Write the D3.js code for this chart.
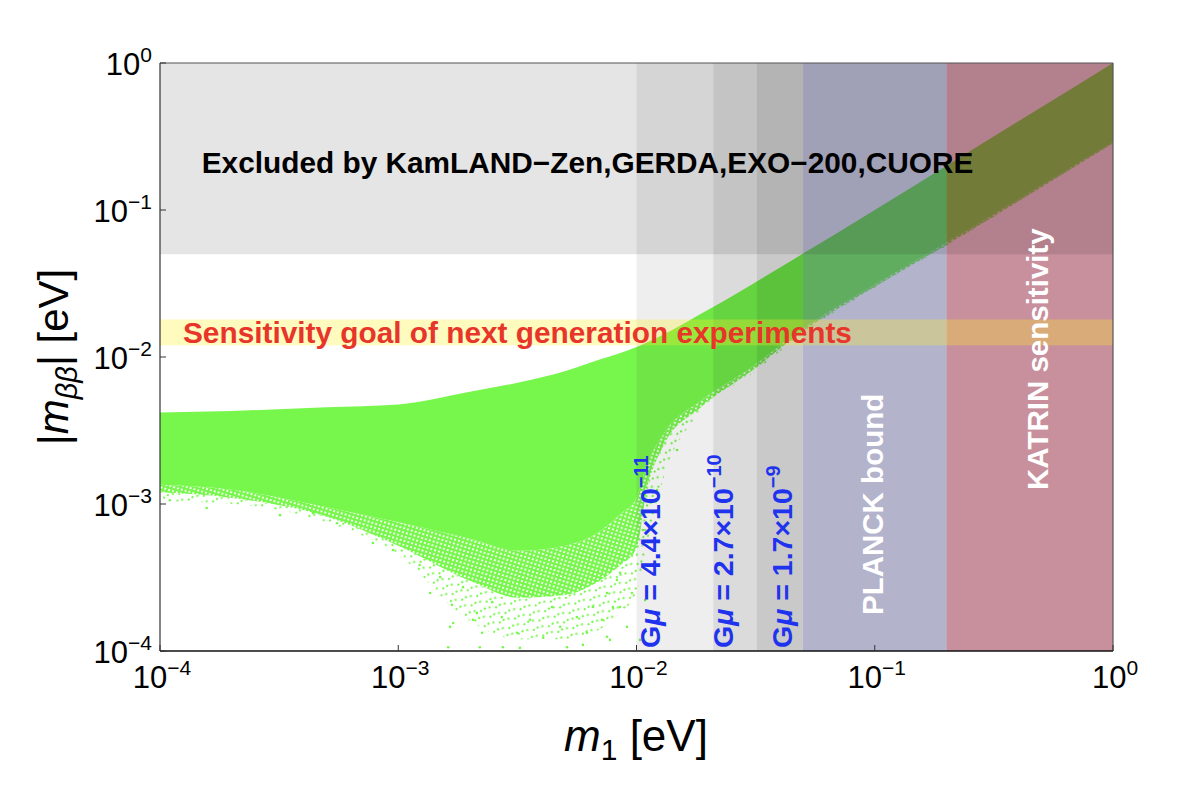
<!DOCTYPE html>
<html>
<head>
<meta charset="utf-8">
<script src="https://cdn.jsdelivr.net/npm/d3@7"></script>
<style>
  body { margin: 0; background: #fff; }
  text { font-family: "Liberation Sans", Arial, Helvetica, sans-serif; }
</style>
</head>
<body>
<svg id="chart" width="1192" height="798"></svg>
<script>
// ---- data ----
// edges of the allowed |m_bb| region, sampled at m1 (eV)
const m1Grid      = [1e-4, 2e-4, 5e-4, 1e-3, 2e-3, 3.2e-3, 5e-3, 7e-3, 8.5e-3, 1e-2, 1.1e-2, 1.3e-2, 1.85e-2, 3e-2, 5e-2, 0.1, 0.2, 0.5, 1];
const upperEdge   = [4.2e-3, 4.3e-3, 4.55e-3, 4.75e-3, 5.8e-3, 6.7e-3, 8.0e-3, 9.6e-3, 1.06e-2, 1.17e-2, 1.25e-2, 1.42e-2, 1.95e-2, 3.07e-2, 5.05e-2, 0.1, 0.2, 0.5, 1];
const lowerDense  = [1.35e-3, 1.25e-3, 9.5e-4, 7.5e-4, 5.8e-4, 4.8e-4, 5.2e-4, 6.5e-4, 8.5e-4, 1.1e-3, 1.8e-3, 3.0e-3, 5.0e-3, 8.4e-3, 1.56e-2, 3.1e-2, 6.0e-2, 0.147, 0.29];
const lowerFringe = [1.2e-3, 1.1e-3, 8.2e-4, 5.2e-4, 3.0e-4, 2.3e-4, 2.4e-4, 3.0e-4, 3.8e-4, 5.0e-4, 1.2e-3, 2.5e-3, 4.5e-3, 7.9e-3, 1.5e-2, 3.0e-2, 5.8e-2, 0.143, 0.285];
const lowerOuter  = [1.05e-3, 1.0e-3, 7.5e-4, 4.5e-4, 1.6e-4, 1.2e-4, 1.2e-4, 1.4e-4, 1.8e-4, 2.5e-4, 5e-4, 1.5e-3, 4.2e-3, 7.5e-3, 1.45e-2, 2.95e-2, 5.7e-2, 0.142, 0.283];
// isolated scatter points below the dense region [m1, |m_bb|]
const sparsePoints = [
  [1.36e-3, 2.48e-4], [1.68e-3, 2.06e-4], [1.70e-3, 1.55e-4], [2.06e-3, 1.63e-4], [2.25e-3, 1.33e-4],
  [2.48e-3, 2.15e-4], [2.72e-3, 1.70e-4], [3.15e-3, 1.33e-4], [3.24e-3, 1.05e-4], [3.57e-3, 1.63e-4],
  [4.06e-3, 1.23e-4], [4.42e-3, 1.99e-4], [4.78e-3, 1.46e-4], [5.11e-3, 1.06e-4], [5.62e-3, 1.70e-4],
  [6.19e-3, 1.33e-4], [6.56e-3, 1.99e-4], [7.16e-3, 1.63e-4], [7.52e-3, 1.25e-4], [5.96e-3, 1.10e-4],
  [2.75e-3, 1.06e-4], [2.20e-3, 1.06e-4], [8.53e-3, 1.99e-4], [9.12e-3, 1.46e-4], [1.50e-3, 3.19e-4],
  [1.87e-3, 2.72e-4], [4.63e-3, 2.48e-4], [3.68e-3, 2.48e-4], [2.94e-3, 2.72e-4], [2.36e-3, 3.19e-4],
  [7.52e-3, 2.48e-4], [8.28e-3, 3.04e-4], [1.65e-3, 1.46e-4], [1.62e-3, 1.06e-4], [1.23e-3, 3.85e-4],
  [2.14e-3, 1.81e-4], [7.83e-4, 5.43e-4], [9.5e-4, 4.86e-4], [3.19e-4, 8.4e-4], [1.57e-4, 9.4e-4],
  [1.10e-4, 1.06e-3], [4.39e-4, 8.7e-4], [5.53e-4, 7.4e-4], [7.96e-3, 1.99e-4], [7.74e-3, 1.19e-4],
  [9.57e-3, 2.48e-4], [8.53e-3, 3.40e-4], [1.064e-2, 6.65e-4], [1.22e-2, 1.245e-3], [1.48e-2, 2.33e-3],
  [1.17e-2, 8.7e-4], [1.035e-2, 1.19e-4], [1.087e-2, 2.22e-4]
];

// shaded bounds (eV)
const excludedBand    = [0.05, 1];
const sensitivityBand = [0.012, 0.018];
const gmuEdges        = [0.01, 0.021, 0.032, 0.05];
const gmuMantissa     = ["4.4", "2.7", "1.7"];
const gmuExponent     = ["−11", "−10", "−9"];
const planckBand      = [0.05, 0.2];
const katrinBand      = [0.2, 1];

// axis ticks
const tickValues = [1e-4, 1e-3, 1e-2, 1e-1, 1];
const tickExp    = ["−4", "−3", "−2", "−1", "0"];

// ---- layout ----
const padL = 160, padR = 1113, padT = 63, padB = 651;
const green = "#77f64c";

const svg = d3.select("#chart");

const x = d3.scaleLog().domain([1e-4, 1]).range([padL, padR]);
const y = d3.scaleLog().domain([1e-4, 1]).range([padB, padT]);

const defs = svg.append("defs");
defs.append("clipPath").attr("id", "plotClip")
  .append("rect")
  .attr("x", padL).attr("y", padT)
  .attr("width", padR - padL).attr("height", padB - padT);

// stipples for the thinning edge of the scatter
function stipple(id, size, dots, angle, r) {
  const p = defs.append("pattern")
    .attr("id", id)
    .attr("patternUnits", "userSpaceOnUse")
    .attr("patternTransform", `rotate(${angle})`)
    .attr("width", size).attr("height", size);
  dots.forEach(d => p.append("circle").attr("cx", d[0]).attr("cy", d[1]).attr("r", r).attr("fill", green));
}
stipple("stippleDense", 4, [[1, 1], [3, 3], [3, 1]], 17, 1.3);
stipple("stippleSparse", 11, [[1, 1], [6.5, 4.5], [3, 8]], 31, 1.15);

const plot = svg.append("g").attr("clip-path", "url(#plotClip)");

// ---- scatter region ----
const rows = m1Grid.map((m, i) => ({
  m: m, up: upperEdge[i], lo: lowerDense[i], fr: lowerFringe[i], out: lowerOuter[i]
}));

function band(lowKey, highKey, fill) {
  plot.append("path")
    .datum(rows)
    .attr("fill", fill)
    .attr("d", d3.area()
      .x(d => x(d.m))
      .y0(d => y(d[lowKey]))
      .y1(d => y(d[highKey]))
      .curve(d3.curveMonotoneX));
}
band("out", "fr", "url(#stippleSparse)");
band("fr", "lo", "url(#stippleDense)");
band("lo", "up", green);

plot.selectAll("circle.pt")
  .data(sparsePoints)
  .enter().append("circle")
  .attr("class", "pt")
  .attr("cx", d => x(d[0]))
  .attr("cy", d => y(d[1]))
  .attr("r", 1.3)
  .attr("fill", green);

// ---- shaded bands ----
function vBand(lo, hi, fill) {
  plot.append("rect")
    .attr("x", x(lo)).attr("y", padT)
    .attr("width", x(hi) - x(lo)).attr("height", padB - padT)
    .attr("fill", fill);
}
function hBand(lo, hi, fill) {
  plot.append("rect")
    .attr("x", padL).attr("y", y(hi))
    .attr("width", padR - padL).attr("height", y(lo) - y(hi))
    .attr("fill", fill);
}

const gmuShade = [0.065, 0.14, 0.21];
gmuEdges.slice(0, -1).forEach((e, i) => vBand(e, gmuEdges[i + 1], `rgba(0,0,0,${gmuShade[i]})`));
vBand(planckBand[0], planckBand[1], "rgba(65,65,127,0.4)");
vBand(katrinBand[0], katrinBand[1], "rgba(140,20,50,0.48)");
hBand(excludedBand[0], excludedBand[1], "rgba(0,0,0,0.1)");
hBand(sensitivityBand[0], sensitivityBand[1], "rgba(255,240,40,0.3)");

// ---- frame and ticks ----
svg.append("line").attr("x1", padL).attr("x2", padR).attr("y1", padT).attr("y2", padT)
  .attr("stroke", "#555").attr("stroke-width", 1.2);
svg.append("line").attr("x1", padR).attr("x2", padR).attr("y1", padT).attr("y2", padB)
  .attr("stroke", "#555").attr("stroke-width", 1.2);
svg.append("line").attr("x1", padL).attr("x2", padL).attr("y1", padT).attr("y2", padB)
  .attr("stroke", "#333").attr("stroke-width", 1.2);
svg.append("line").attr("x1", padL).attr("x2", padR).attr("y1", padB).attr("y2", padB)
  .attr("stroke", "#111").attr("stroke-width", 1.4);

svg.selectAll("line.xt").data(tickValues).enter().append("line")
  .attr("x1", d => x(d)).attr("x2", d => x(d))
  .attr("y1", padB).attr("y2", padB - 6)
  .attr("stroke", "#333");
svg.selectAll("line.yt").data(tickValues).enter().append("line")
  .attr("x1", padL).attr("x2", padL + 6)
  .attr("y1", d => y(d)).attr("y2", d => y(d))
  .attr("stroke", "#333");

// tick labels 10^n
function powerLabel(sel, exp) {
  sel.append("tspan").text("10");
  sel.append("tspan").attr("dy", -13).attr("font-size", 21).text(exp);
}
tickValues.forEach((v, i) => {
  const tx = svg.append("text")
    .attr("x", x(v) + 2).attr("y", 688)
    .attr("text-anchor", "middle")
    .attr("font-size", 31)
    .attr("fill", "#000");
  powerLabel(tx, tickExp[i]);

  const ty = svg.append("text")
    .attr("x", 152).attr("y", y(v) + 12)
    .attr("text-anchor", "end")
    .attr("font-size", 31)
    .attr("fill", "#000");
  powerLabel(ty, tickExp[i]);
});

// axis titles
const xt = svg.append("text")
  .attr("x", 636).attr("y", 751)
  .attr("text-anchor", "middle")
  .attr("font-size", 44);
xt.append("tspan").attr("font-style", "italic").text("m");
xt.append("tspan").attr("font-size", 30).attr("dy", 9).text("1");
xt.append("tspan").attr("dy", -9).text(" [eV]");

const yt = svg.append("text")
  .attr("transform", "translate(68,357) rotate(-90)")
  .attr("text-anchor", "middle")
  .attr("font-size", 42);
yt.append("tspan").text("|");
yt.append("tspan").attr("font-style", "italic").text("m");
yt.append("tspan").attr("font-style", "italic").attr("font-size", 29).attr("dy", 9).text("ββ");
yt.append("tspan").attr("dy", -9).text("| [eV]");

// ---- annotations ----
svg.append("text")
  .attr("x", (203 + 972) / 2).attr("y", 173)
  .attr("text-anchor", "middle")
  .attr("font-size", 29.8).attr("font-weight", "bold")
  .attr("fill", "#000")
  .text("Excluded by KamLAND−Zen,GERDA,EXO−200,CUORE");

svg.append("text")
  .attr("x", 183).attr("y", 343)
  .attr("font-size", 29.8).attr("font-weight", "bold")
  .attr("fill", "#e8352a")
  .text("Sensitivity goal of next generation experiments");

// G mu labels, rotated, sitting on the bottom axis
const gmuBaseX = [660, 733, 792];
gmuMantissa.forEach((mant, i) => {
  const t = svg.append("text")
    .attr("transform", `translate(${gmuBaseX[i]},648) rotate(-90)`)
    .attr("font-size", 28.5).attr("font-weight", "bold")
    .attr("fill", "#1f33ee");
  t.append("tspan").text("G");
  t.append("tspan").attr("font-style", "italic").text("μ");
  t.append("tspan").text(" = " + mant + "×10");
  t.append("tspan").attr("dy", -12).attr("font-size", 20).text(gmuExponent[i]);
});

svg.append("text")
  .attr("transform", "translate(883,615) rotate(-90)")
  .attr("font-size", 29.5).attr("font-weight", "bold")
  .attr("fill", "#fff")
  .text("PLANCK bound");

svg.append("text")
  .attr("transform", "translate(1048,490) rotate(-90)")
  .attr("font-size", 29.5).attr("font-weight", "bold")
  .attr("fill", "#fff")
  .text("KATRIN sensitivity");
</script>
</body>
</html>
